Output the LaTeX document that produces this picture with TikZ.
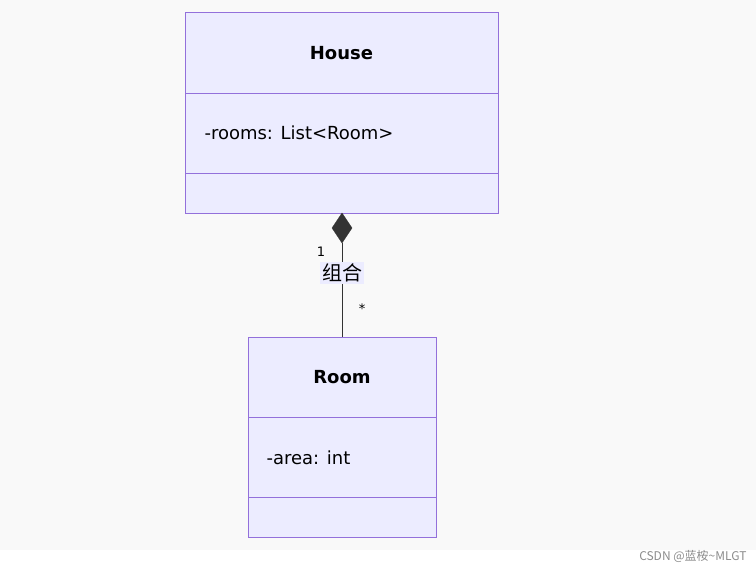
\documentclass[tikz,border=0pt]{standalone}
\usepackage{fontspec}
\setmainfont{DejaVu Sans}
\newfontfamily\cjk{Noto Sans CJK SC}
\usetikzlibrary{positioning}
\usetikzlibrary{shapes}

\definecolor{umlfill}{HTML}{ECECFF}
\definecolor{umlline}{HTML}{9370DB}
\definecolor{bgcol}{HTML}{F9F9F9}
\tikzset{
  classpart/.style={draw=umlline, fill=umlfill, thick},
  classtitle/.style={font=\fontsize{18}{22}\selectfont\bfseries},
  attr/.style={anchor=west, font=\fontsize{18}{22}\selectfont},
  mult/.style={font=\fontsize{13}{15}\selectfont}
}

\begin{document}
\begin{tikzpicture}[x=1pt,y=-1pt]
\useasboundingbox (0,0) rectangle (756,570);
\fill[bgcol] (0,0) rectangle (756,550);
\fill[white] (0,550) rectangle (756,570);
%House
\draw[classpart] (185,12) rectangle (498,93);
\draw[classpart] (185,93) rectangle (498,173);
\draw[classpart] (185,173) rectangle (498,213);
\node[classtitle] (house) at (341.5,53) {House};
\node[attr] (rooms) at (201,133) {-rooms: List<Room>};
\coordinate (houseb) at (342,213);
%Room
\draw[classpart] (248,337) rectangle (436,417);
\draw[classpart] (248,417) rectangle (436,497);
\draw[classpart] (248,497) rectangle (436,537);
\node[classtitle] (room) at (342,377) {Room};
\node[attr] (area) at (263,458) {-area: int};
\coordinate (roomt) at (342,337);
%relation
\coordinate (diamb) at (342,243);
\draw[fill=black!80, draw=black!80] (houseb) -- (352,228) -- (diamb) -- (332,228) -- cycle;
\draw[black!80, thick] (diamb) -- (roomt);
\node[fill=umlfill, inner sep=2pt, font=\cjk\fontsize{20}{24}\selectfont] (comp) at (342,273) {组合};
\node[mult] (one) at (321,252) {1};
\node[mult] (many) at (362,309) {*};
%watermark
\node[anchor=east, text=black!45, font=\cjk\fontsize{12}{14}\selectfont] (mark) at (750,556) {CSDN @蓝桉\textasciitilde MLGT};
\end{tikzpicture}
\end{document}
